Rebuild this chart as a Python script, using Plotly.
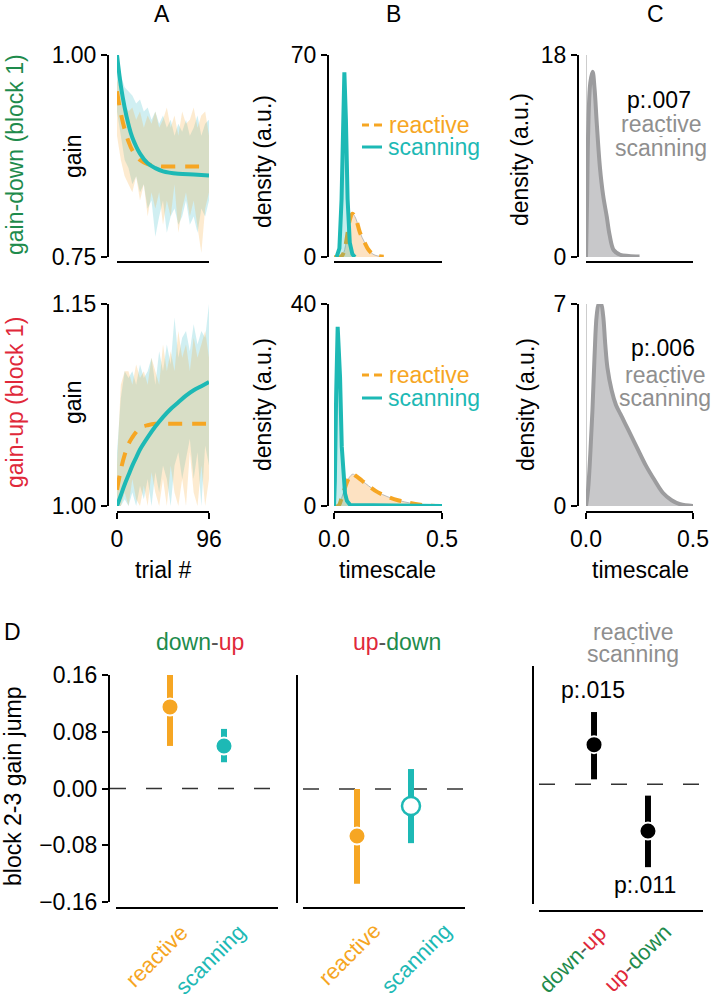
import plotly.graph_objects as go

# ---------------- data ----------------
band_trials = list(range(0, 97, 4))

a1_scan_hi = [0.995, 0.975, 0.96, 0.955, 0.95, 0.94, 0.945, 0.93, 0.935, 0.92, 0.93, 0.915, 0.925,
              0.91, 0.92, 0.90, 0.915, 0.905, 0.92, 0.90, 0.91, 0.925, 0.90, 0.915, 0.92]
a1_scan_lo = [0.93, 0.90, 0.87, 0.86, 0.84, 0.85, 0.83, 0.84, 0.81, 0.82, 0.775, 0.80, 0.82,
              0.78, 0.80, 0.81, 0.79, 0.80, 0.82, 0.79, 0.80, 0.78, 0.81, 0.80, 0.82]
a1_react_hi = [0.97, 0.955, 0.94, 0.93, 0.935, 0.92, 0.93, 0.91, 0.925, 0.915, 0.93, 0.91, 0.92,
               0.935, 0.91, 0.925, 0.90, 0.93, 0.915, 0.92, 0.935, 0.91, 0.925, 0.93, 0.90]
a1_react_lo = [0.90, 0.87, 0.85, 0.84, 0.83, 0.85, 0.82, 0.84, 0.80, 0.83, 0.81, 0.83, 0.79,
               0.82, 0.80, 0.84, 0.78, 0.81, 0.83, 0.80, 0.82, 0.79, 0.755, 0.81, 0.83]

a2_scan_hi = [1.04, 1.08, 1.10, 1.095, 1.10, 1.09, 1.105, 1.095, 1.10, 1.11, 1.09, 1.115, 1.10,
              1.12, 1.105, 1.14, 1.11, 1.125, 1.13, 1.115, 1.135, 1.12, 1.13, 1.125, 1.15]
a2_scan_lo = [1.0, 1.0, 1.005, 1.0, 1.01, 1.0, 1.015, 1.005, 1.02, 1.0, 1.025, 1.01, 1.03,
              1.02, 1.0, 1.03, 1.04, 1.02, 1.035, 1.05, 1.02, 1.04, 1.0, 1.045, 1.03]
a2_react_hi = [1.03, 1.09, 1.10, 1.10, 1.09, 1.105, 1.095, 1.10, 1.09, 1.11, 1.10, 1.09, 1.12,
               1.10, 1.115, 1.10, 1.13, 1.11, 1.12, 1.10, 1.125, 1.11, 1.12, 1.13, 1.11]
a2_react_lo = [1.0, 1.0, 1.01, 1.0, 1.02, 1.005, 1.0, 1.015, 1.0, 1.025, 1.01, 1.0, 1.02,
               1.0, 1.03, 1.01, 1.0, 1.02, 1.0, 1.04, 1.01, 1.0, 1.03, 1.0, 1.02]

a1_fit_x = [0, 4, 8, 12, 16, 24, 32, 40, 48, 64, 80, 96]
a1_scan_fit = [1.0, 0.962, 0.935, 0.914, 0.898, 0.878, 0.866, 0.86, 0.856, 0.853, 0.852, 0.851]
a1_react_fit = [0.955, 0.928, 0.908, 0.893, 0.882, 0.87, 0.865, 0.863, 0.862, 0.862, 0.862, 0.862]

a2_fit_x = [0, 4, 8, 12, 16, 20, 24, 32, 40, 48, 56, 64, 72, 80, 88, 96]
a2_scan_fit = [1.0, 1.008, 1.016, 1.023, 1.030, 1.036, 1.042, 1.051, 1.059, 1.066, 1.072, 1.077,
               1.082, 1.086, 1.089, 1.092]
a2_react_fit = [1.012, 1.027, 1.038, 1.046, 1.051, 1.055, 1.058, 1.060, 1.061, 1.061, 1.061, 1.061,
                1.061, 1.061, 1.061, 1.061]

b1_react_x = [0, 0.03, 0.045, 0.06, 0.072, 0.085, 0.10, 0.12, 0.14, 0.16, 0.18, 0.20, 0.23]
b1_react_y = [0, 0, 1.5, 7, 12.5, 15, 13.5, 8.5, 5.3, 2.5, 1.0, 0.4, 0.05]
b1_scan_x = [0.012, 0.025, 0.035, 0.042, 0.048, 0.055, 0.063, 0.073, 0.085, 0.097]
b1_scan_y = [0, 3, 20, 48, 64, 48, 20, 5, 1, 0]

b2_react_x = [0, 0.02, 0.035, 0.05, 0.07, 0.087, 0.1, 0.13, 0.16, 0.2, 0.25, 0.3, 0.35, 0.4, 0.45, 0.5]
b2_react_y = [0, 0, 1.5, 3.5, 5.6, 6.3, 6.0, 5.0, 4.0, 2.8, 1.8, 1.1, 0.6, 0.25, 0.05, 0]
b2_scan_x = [0, 0.004, 0.01, 0.017, 0.022, 0.028, 0.036, 0.044, 0.051, 0.06, 0.075, 0.5]
b2_scan_y = [0, 5, 22, 35.5, 31, 25.5, 11.7, 5.5, 2.5, 1.0, 0.2, 0]

c1_x = [0, 0.005, 0.01, 0.02, 0.031, 0.04, 0.05, 0.065, 0.08, 0.097, 0.11, 0.13, 0.16, 0.2, 0.25]
c1_y = [0, 5, 11, 15.5, 16.5, 15, 12, 8, 5.5, 3.6, 2, 0.6, 0.2, 0.1, 0.05]
c2_x = [0, 0.01, 0.02, 0.03, 0.04, 0.05, 0.06, 0.07, 0.08, 0.09, 0.1, 0.12, 0.14, 0.16, 0.18,
        0.2, 0.24, 0.28, 0.32, 0.36, 0.4, 0.44, 0.5]
c2_y = [0, 0.6, 1.8, 3.3, 5.2, 6.6, 7.0, 7.0, 6.6, 5.6, 4.8, 4.0, 3.5, 3.2, 2.9, 2.6, 2.0, 1.4,
        0.9, 0.45, 0.2, 0.06, 0]

d_methods = ["reactive", "scanning"]
d1_mean = [0.115, 0.06]
d1_lo = [0.06, 0.037]
d1_hi = [0.16, 0.084]
d2_mean = [-0.066, -0.024]
d2_lo = [-0.133, -0.076]
d2_hi = [0.0, 0.028]
d2_filled = [True, False]
d3_conds = ["down-up", "up-down"]
d3_mean = [0.056, -0.066]
d3_lo = [0.007, -0.117]
d3_hi = [0.102, -0.016]

# ---------------- styling ----------------
W, H = 714, 999
FONT = "Liberation Sans, Arial, Helvetica, sans-serif"
ORANGE = "#F6A623"
TEAL = "#1DB9B5"
GREEN = "#1E8B4C"
RED = "#E0283A"
GRAY = "#8F8F8F"
FS = 23


def px(x):
    return x / W


def py(y):
    return 1 - y / H


fig = go.Figure()
layout = dict(width=W, height=H, margin=dict(l=0, r=0, t=0, b=0, autoexpand=False),
              paper_bgcolor="white", plot_bgcolor="rgba(0,0,0,0)", showlegend=False,
              font=dict(family=FONT, size=FS, color="black"))


def set_axes(n, xdom, ydom, yline_x, xline_y, xrange, yrange, xtv=None, ytv=None, xfmt=None, yfmt=None):
    sx = "" if n == 1 else str(n)
    xa = dict(domain=[px(xdom[0]), px(xdom[1])], range=xrange, anchor="free", position=py(xline_y),
              showline=True, linecolor="black", linewidth=2, showgrid=False, zeroline=False,
              automargin=False)
    if xtv is not None:
        xa.update(tickmode="array", tickvals=xtv, ticks="outside", ticklen=6, tickwidth=2,
                  tickcolor="black", tickformat=xfmt, tickfont=dict(size=FS, family=FONT))
    else:
        xa.update(showticklabels=False, ticks="")
    ya = dict(domain=[py(ydom[1]), py(ydom[0])], range=yrange, anchor="free", position=px(yline_x),
              showline=True, linecolor="black", linewidth=2, showgrid=False, zeroline=False,
              automargin=False)
    if ytv is not None:
        ya.update(tickmode="array", tickvals=ytv, ticks="outside", ticklen=6, tickwidth=2,
                  tickcolor="black", tickformat=yfmt, tickfont=dict(size=FS, family=FONT))
    else:
        ya.update(showticklabels=False, ticks="")
    layout["xaxis" + sx] = xa
    layout["yaxis" + sx] = ya
    return "x" + sx, "y" + sx


axA1 = set_axes(1, (117, 209), (55, 257), 108, 262, [0, 96], [0.75, 1.0], None, [0.75, 1.0], None, ".2f")
axB1 = set_axes(2, (334, 442), (55, 257), 328, 262, [0, 0.5], [0, 70], None, [0, 70])
axC1 = set_axes(3, (586, 693), (55, 257), 578, 262, [0, 0.5], [0, 18], None, [0, 18])
axA2 = set_axes(4, (117, 209), (304, 506), 108, 512, [0, 96], [1.0, 1.15], [0, 96], [1.0, 1.15], None, ".2f")
axB2 = set_axes(5, (334, 442), (304, 506), 328, 512, [0, 0.5], [0, 40], [0, 0.5], [0, 40], ".1f")
axC2 = set_axes(6, (586, 693), (304, 506), 578, 512, [0, 0.5], [0, 7], [0, 0.5], [0, 7], ".1f")
axD1 = set_axes(7, (116, 278), (675, 902), 109, 908, [0, 3], [-0.16, 0.16], None,
                [-0.16, -0.08, 0, 0.08, 0.16], None, ".2f")
axD2 = set_axes(8, (303, 465), (675, 903), 297, 908, [0, 3], [-0.16, 0.16])
axD3 = set_axes(9, (539, 703), (666, 904), 533, 911, [-0.02, 3.02], [-0.169, 0.167])


def band(ax, x, lo, hi, color):
    fig.add_trace(go.Scatter(x=x + x[::-1], y=hi + lo[::-1], fill="toself", fillcolor=color,
                             line=dict(width=0), mode="lines", xaxis=ax[0], yaxis=ax[1],
                             hoverinfo="skip"))


def line(ax, x, y, color, width=4, dash=None, shape="spline", fill=None, fillcolor=None):
    fig.add_trace(go.Scatter(x=x, y=y, mode="lines", line=dict(color=color, width=width, dash=dash,
                                                                 shape=shape),
                             fill=fill, fillcolor=fillcolor, xaxis=ax[0], yaxis=ax[1]))


TEAL_BAND = "rgba(40,180,195,0.22)"
ORANGE_BAND = "rgba(247,165,40,0.22)"
DASH = "14px,10px"

band(axA1, band_trials, a1_scan_lo, a1_scan_hi, TEAL_BAND)
band(axA1, band_trials, a1_react_lo, a1_react_hi, ORANGE_BAND)
line(axA1, a1_fit_x, a1_react_fit, ORANGE, dash=DASH)
line(axA1, a1_fit_x, a1_scan_fit, TEAL)
band(axA2, band_trials, a2_scan_lo, a2_scan_hi, TEAL_BAND)
band(axA2, band_trials, a2_react_lo, a2_react_hi, ORANGE_BAND)
line(axA2, a2_fit_x, a2_react_fit, ORANGE, dash=DASH)
line(axA2, a2_fit_x, a2_scan_fit, TEAL)

line(axB1, b1_react_x, b1_react_y, "#BBBBBB", width=1, fill="tozeroy", fillcolor="rgba(250,190,120,0.45)")
line(axB1, b1_react_x, b1_react_y, ORANGE, dash="12px,9px")
line(axB1, b1_scan_x, b1_scan_y, TEAL, shape="linear", fill="tozeroy", fillcolor="rgba(29,185,181,0.25)")
line(axB2, b2_react_x, b2_react_y, "#BBBBBB", width=1, fill="tozeroy", fillcolor="rgba(250,190,120,0.45)")
line(axB2, b2_react_x, b2_react_y, ORANGE, dash="12px,9px")
line(axB2, b2_scan_x, b2_scan_y, TEAL, shape="linear", fill="tozeroy", fillcolor="rgba(29,185,181,0.25)")

line(axC1, c1_x, c1_y, "#9C9C9E", width=4, fill="tozeroy", fillcolor="#C8C8CA")
line(axC2, c2_x, c2_y, "#9C9C9E", width=4, fill="tozeroy", fillcolor="#C8C8CA")


def point(ax, xv, m, lo, hi, color, filled=True):
    fig.add_trace(go.Scatter(
        x=[xv], y=[m], mode="markers", xaxis=ax[0], yaxis=ax[1],
        error_y=dict(type="data", symmetric=False, array=[hi - m], arrayminus=[m - lo],
                     color=color, thickness=6, width=0),
        marker=dict(size=17 if filled else 18, color=color if filled else "white",
                    line=dict(color="white" if filled else color, width=2 if filled else 2.5))))


d_colors = [ORANGE, TEAL]
for i, _ in enumerate(d_methods):
    point(axD1, i + 1, d1_mean[i], d1_lo[i], d1_hi[i], d_colors[i])
for i, _ in enumerate(d_methods):
    point(axD2, i + 1, d2_mean[i], d2_lo[i], d2_hi[i], d_colors[i], d2_filled[i])
for i, _ in enumerate(d3_conds):
    point(axD3, i + 1, d3_mean[i], d3_lo[i], d3_hi[i], "black")

# ---------------- shapes ----------------
shapes = []
for ax in (axC1, axC2):
    shapes.append(dict(type="line", xref=ax[0], yref=ax[1] + " domain", x0=0, x1=0, y0=0, y1=1,
                       line=dict(color="#BDBDBD", width=1.5), layer="below"))
for ax, x0, x1 in ((axD1, 110, 278), (axD2, 303, 465), (axD3, 539, 703)):
    shapes.append(dict(type="line", xref="paper", yref=ax[1], x0=px(x0), x1=px(x1), y0=0, y1=0,
                       line=dict(color="#333333", width=1.5, dash="16px,20px"), layer="below"))
for yk_r, yk_s in ((125, 147), (375, 398)):
    for a, b in ((362, 369), (374, 382)):
        shapes.append(dict(type="line", xref="paper", yref="paper", x0=px(a), x1=px(b),
                           y0=py(yk_r), y1=py(yk_r), line=dict(color=ORANGE, width=3)))
    shapes.append(dict(type="line", xref="paper", yref="paper", x0=px(362), x1=px(382),
                       y0=py(yk_s), y1=py(yk_s), line=dict(color=TEAL, width=3)))

# ---------------- annotations ----------------
anns = []


def ann(text, x, y, color="black", size=FS, angle=0, xanchor="center"):
    anns.append(dict(text=text, x=px(x), y=py(y), xref="paper", yref="paper", showarrow=False,
                     font=dict(color=color, size=size, family=FONT), textangle=angle,
                     xanchor=xanchor, yanchor="middle", borderpad=0))


ann("A", 162, 14)
ann("B", 393, 14)
ann("C", 655, 14)
ann("gain-down (block 1)", 15, 155, GREEN, angle=-90)
ann("gain-up (block 1)", 15, 403, RED, angle=-90)
ann("gain", 73, 157, angle=-90)
ann("gain", 73, 403, angle=-90)
ann("density (a.u.)", 263, 162, angle=-90)
ann("density (a.u.)", 263, 405, angle=-90)
ann("density (a.u.)", 520, 160, angle=-90)
ann("density (a.u.)", 526, 405, angle=-90)
ann("trial #", 163, 570)
ann("timescale", 387, 570)
ann("timescale", 640, 570)
for yr, ys in ((125, 147), (375, 398)):
    ann("reactive", 388, yr, ORANGE, xanchor="left")
    ann("scanning", 387, ys, TEAL, xanchor="left")
for xc, yp, yr, ym, ys, pt in ((661, 100, 124, 136, 148, "p:.007"), (665, 348, 375, 386, 398, "p:.006")):
    ann(pt, xc - 2, yp)
    ann("reactive", xc, yr, GRAY)
    ann("-", xc, ym, GRAY, size=12)
    ann("scanning", xc, ys, GRAY)
ann("D", 12, 632)
ann('<span style="color:%s">down</span>-<span style="color:%s">up</span>' % (GREEN, RED), 200, 642, "#555555")
ann('<span style="color:%s">up</span>-<span style="color:%s">down</span>' % (RED, GREEN), 397, 642, "#555555")
ann("reactive", 633, 632, GRAY)
ann("-", 633, 643, GRAY, size=12)
ann("scanning", 633, 654, GRAY)
ann("p:.015", 593, 690)
ann("p:.011", 645, 885)
ann("block 2-3 gain jump", 13, 787, angle=-90)
for (x, y), txt, col in (((156, 956), "reactive", ORANGE), ((210, 959), "scanning", TEAL),
                         ((349, 954), "reactive", ORANGE), ((416, 958), "scanning", TEAL)):
    ann(txt, x, y, col, size=22, angle=-45)
ann('<span style="color:%s">down</span>-<span style="color:%s">up</span>' % (GREEN, RED), 572, 959,
    "#555555", size=22, angle=-45)
ann('<span style="color:%s">up</span>-<span style="color:%s">down</span>' % (RED, GREEN), 637, 958,
    "#555555", size=22, angle=-45)

layout["shapes"] = shapes
layout["annotations"] = anns
fig.update_layout(**layout)
fig.write_html("out.html", config={"displayModeBar": False},
               post_script="document.body.style.margin='0px';document.body.style.padding='0px';")
